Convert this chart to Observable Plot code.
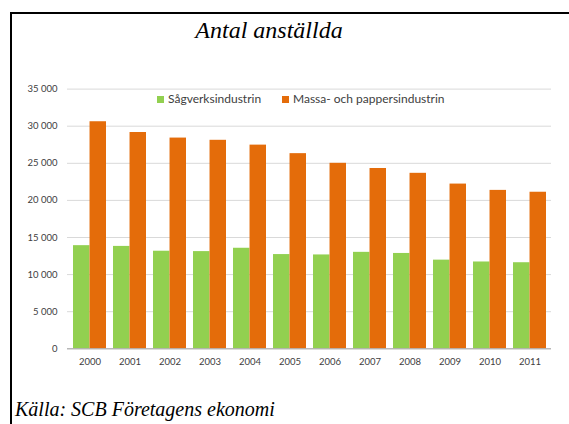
<!DOCTYPE html>
<html>
<head>
<meta charset="utf-8">
<script src="https://cdn.jsdelivr.net/npm/d3@7"></script>
<script src="https://cdn.jsdelivr.net/npm/@observablehq/plot@0.6"></script>
<style>
  html, body { margin: 0; padding: 0; background: #fff; }
  #wrap { position: relative; width: 569px; height: 424px; overflow: hidden; background: #fff; }
  #frame { position: absolute; left: 10px; top: 12px; width: 600px; height: 500px; border-top: 2px solid #000; border-left: 2px solid #000; }
  #title { position: absolute; left: 0; width: 538px; top: 17px; text-align: center; font-family: "Liberation Serif", serif; font-style: italic; font-size: 24px; color: #000; }
  #caption { position: absolute; left: 15px; top: 398px; font-family: "Liberation Serif", serif; font-style: italic; font-size: 20px; color: #000; white-space: nowrap; }
  #chart { position: absolute; left: 0; top: 0; }
  #legend { position: absolute; top: 91px; left: 0; width: 569px; height: 16px; font-family: Lato, "Open Sans", sans-serif; font-size: 12px; color: #404040; }
  .li { position: absolute; top: 0; white-space: nowrap; line-height: 16px; }
  .sw { display: inline-block; width: 7px; height: 7px; margin-right: 4px; }
</style>
</head>
<body>
<div id="wrap">
  <div id="frame"></div>
  <div id="chart"></div>
  <div id="title">Antal anställda</div>
  <div id="legend"></div>
  <div id="caption">Källa: SCB Företagens ekonomi</div>
</div>
<script>
const years = ["2000","2001","2002","2003","2004","2005","2006","2007","2008","2009","2010","2011"];
const series = ["Sågverksindustrin", "Massa- och pappersindustrin"];
const sagverk = [13900, 13800, 13150, 13100, 13550, 12700, 12650, 13000, 12850, 11950, 11700, 11600];
const massa = [30600, 29150, 28400, 28100, 27450, 26300, 25000, 24300, 23650, 22200, 21350, 21100];
const colors = ["#92D050", "#E46C0A"];
const yTicks = [0, 5000, 10000, 15000, 20000, 25000, 30000, 35000];

const sagData = years.map((yr, i) => ({year: yr, series: series[0], value: sagverk[i]}));
const massaData = years.map((yr, i) => ({year: yr, series: series[1], value: massa[i]}));

const fmt = d => d3.format(",")(d).replace(/,/g, " ");

const W = 569, ML = 67, MR = 18;
const padIn = 0.18, padOut = 0.09;
const step = (W - ML - MR) / (years.length - padIn + 2 * padOut);
const half = step * (1 - padIn) / 2;

const chart = Plot.plot({
  width: W,
  height: 380,
  marginLeft: ML,
  marginRight: MR,
  marginTop: 88.6,
  marginBottom: 31.7,
  style: { fontFamily: "Lato, 'Open Sans', sans-serif", fontSize: "9px", color: "#404040", background: "transparent" },
  x: { domain: years, paddingInner: padIn, paddingOuter: padOut, label: null },
  y: { domain: [0, 35000], label: null },
  color: { domain: series, range: colors },
  marks: [
    Plot.gridY(yTicks, { stroke: "#d9d9d9", strokeOpacity: 1, strokeWidth: 1 }),
    Plot.barY(sagData, { x: "year", y: "value", fill: "series", insetRight: half }),
    Plot.barY(massaData, { x: "year", y: "value", fill: "series", insetLeft: half }),
    Plot.ruleY([0], { stroke: "#a6a6a6", strokeWidth: 1 }),
    Plot.axisX({ tickSize: 0, tickPadding: 9, fontSize: 9.5, label: null }),
    Plot.axisY(yTicks, { tickFormat: fmt, tickSize: 0, tickPadding: 10, fontSize: 9.5, label: null })
  ]
});
document.getElementById("chart").appendChild(chart);

// legend built from the same series/colors arrays
const legend = document.getElementById("legend");
const legendX = [157, 282];
series.forEach((s, i) => {
  const item = document.createElement("div");
  item.className = "li";
  item.style.left = legendX[i] + "px";
  const sw = document.createElement("span");
  sw.className = "sw";
  sw.style.background = colors[i];
  item.appendChild(sw);
  item.appendChild(document.createTextNode(s));
  legend.appendChild(item);
});
</script>
</body>
</html>
